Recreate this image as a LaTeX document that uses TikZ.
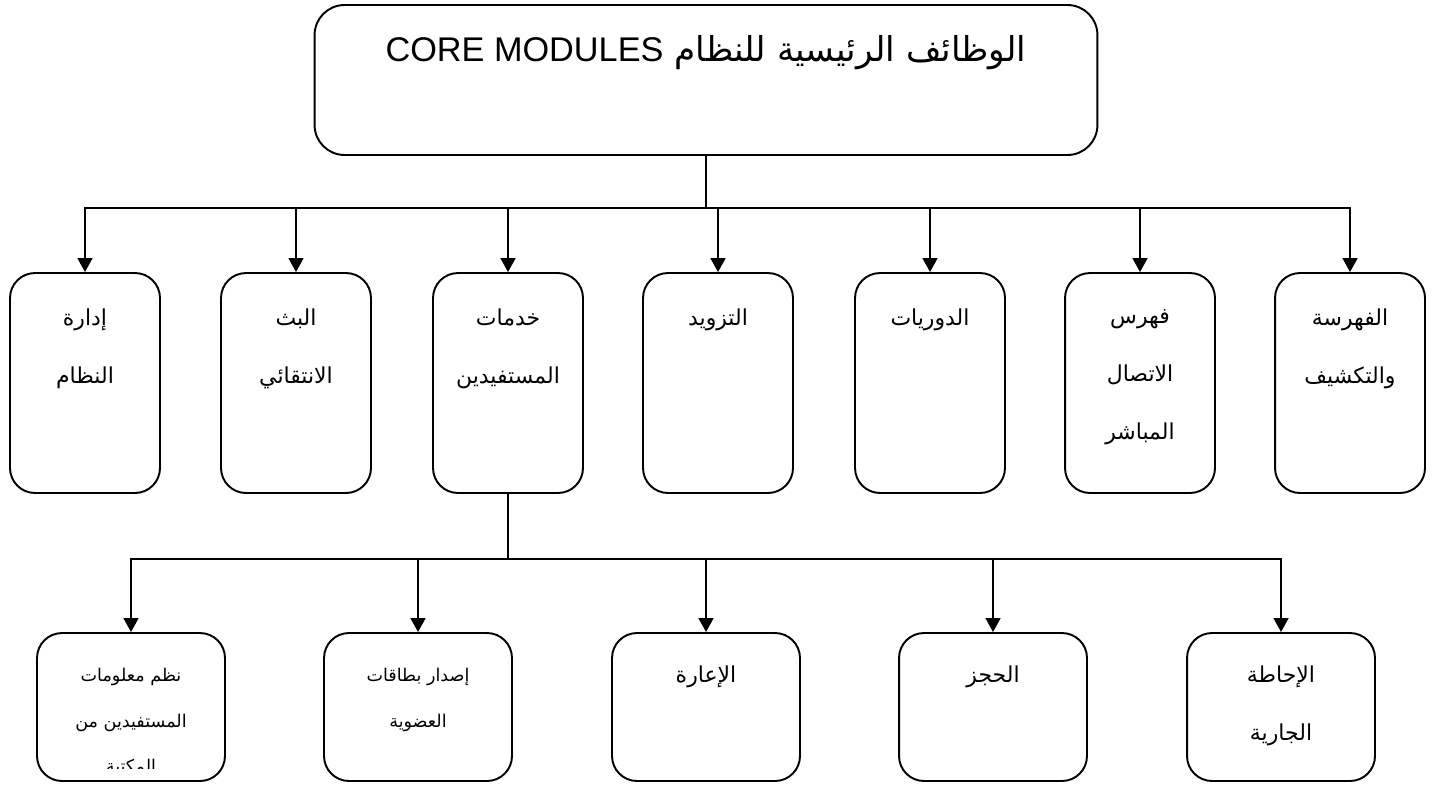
\documentclass[tikz,border=0pt]{standalone}
\usepackage{fontspec}
\setmainfont{Liberation Sans}
\newfontfamily\arabicfont[Script=Arabic]{DejaVu Sans}
\TeXXeTstate=1
\usetikzlibrary{arrows.meta, positioning}

\begin{document}
\begin{tikzpicture}[x=0.02cm, y=-0.02cm]
% Setup the styles for the boxes, their captions and the links
\tikzset{module/.style={draw,
		rounded corners=0.5cm,
		line width=1.1pt,
		minimum width=3cm,
		minimum height=4.4cm},
	submodule/.style={module, minimum width=3.76cm, minimum height=2.96cm},
	caption/.style={font=\arabicfont\fontsize{12.5}{33}\selectfont, align=center, anchor=north},
	smallcaption/.style={caption, font=\arabicfont\fontsize{10}{26}\selectfont},
	elbow/.style={to path={-| (\tikztotarget)}, -{Triangle[width=8.5pt, length=8pt]}}}
\useasboundingbox (0,0) rectangle (1435,785);

% Draw the main box
\node[module, minimum width=15.66cm, minimum height=3cm, rounded corners=0.6cm] at (706,80) (core) {};
\node[caption, font=\arabicfont\fontsize{19.5}{22}\selectfont] at ([yshift=-0.5cm]core.north) (coretxt)
	{\beginR الوظائف الرئيسية للنظام \beginL{\rmfamily CORE MODULES}\endL\endR};

% Draw the modules
\node[module] at (85, 383)  (admin)   {};
\node[module] at (296, 383) (sdi)     {};
\node[module] at (508, 383) (users)   {};
\node[module] at (718, 383) (acq)     {};
\node[module] at (930, 383) (serials) {};
\node[module] at (1140, 383) (opac)   {};
\node[module] at (1350, 383) (catalog) {};

\node[caption] at ([yshift=-0.62cm]admin.north)   (admintxt)   {\beginR إدارة\endR\\\beginR النظام\endR};
\node[caption] at ([yshift=-0.62cm]sdi.north)     (sditxt)     {\beginR البث\endR\\\beginR الانتقائي\endR};
\node[caption] at ([yshift=-0.62cm]users.north)   (userstxt)   {\beginR خدمات\endR\\\beginR المستفيدين\endR};
\node[caption] at ([yshift=-0.62cm]acq.north)     (acqtxt)     {\beginR التزويد\endR};
\node[caption] at ([yshift=-0.62cm]serials.north) (serialstxt) {\beginR الدوريات\endR};
\node[caption] at ([yshift=-0.62cm]opac.north)    (opactxt)    {\beginR فهرس\endR\\\beginR الاتصال\endR\\\beginR المباشر\endR};
\node[caption] at ([yshift=-0.62cm]catalog.north) (catalogtxt) {\beginR الفهرسة\endR\\\beginR والتكشيف\endR};

% Draw the user services
\node[submodule] at (131, 707)  (profile) {};
\node[submodule] at (418, 707)  (cards)   {};
\node[submodule] at (706, 707)  (loans)   {};
\node[submodule] at (993, 707)  (holds)   {};
\node[submodule] at (1281, 707) (alert)   {};

\begin{scope}
\clip (profile.north west) rectangle ([yshift=0.26cm]profile.south east);
\node[smallcaption] at ([yshift=-0.6cm]profile.north) (profiletxt)
	{\beginR نظم معلومات\endR\\\beginR المستفيدين من\endR\\\beginR المكتبة\endR};
\end{scope}
\node[smallcaption] at ([yshift=-0.6cm]cards.north) (cardstxt) {\beginR إصدار بطاقات\endR\\\beginR العضوية\endR};
\node[caption] at ([yshift=-0.55cm]loans.north) (loanstxt) {\beginR الإعارة\endR};
\node[caption] at ([yshift=-0.55cm]holds.north) (holdstxt) {\beginR الحجز\endR};
\node[caption] at ([yshift=-0.55cm]alert.north) (alerttxt) {\beginR الإحاطة\endR\\\beginR الجارية\endR};

% Connect the boxes
\coordinate (hub) at ([yshift=-1.04cm]core.south);
\coordinate (subhub) at ([yshift=-1.3cm]users.south);
\draw[line width=1.1pt] (core.south) -- (hub) (users.south) -- (subhub);
\draw[line width=1.1pt]
(hub) edge[elbow] (admin.north)
(hub) edge[elbow] (sdi.north)
(hub) edge[elbow] (users.north)
(hub) edge[elbow] (acq.north)
(hub) edge[elbow] (serials.north)
(hub) edge[elbow] (opac.north)
(hub) edge[elbow] (catalog.north)
(subhub) edge[elbow] (profile.north)
(subhub) edge[elbow] (cards.north)
(subhub) edge[elbow] (loans.north)
(subhub) edge[elbow] (holds.north)
(subhub) edge[elbow] (alert.north);
\end{tikzpicture}
\end{document}
